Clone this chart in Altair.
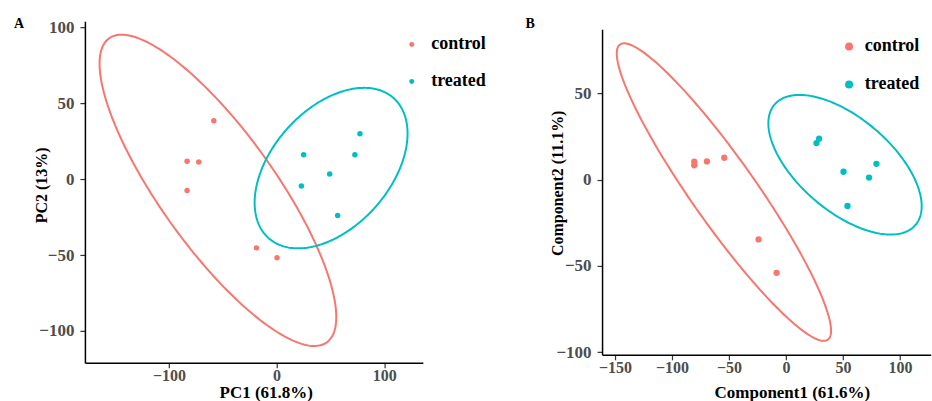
import numpy as np
import pandas as pd
import altair as alt

# ---------------- data ----------------
groups = ["control", "treated"]
colors = ["#F8766D", "#00BFC4"]

# Panel A (PCA)
a_control_x = [-58.3, -83.1, -72.3, -83.1, -18.7, 0.4]
a_control_y = [38.5, 11.7, 11.3, -7.5, -45.3, -51.8]
a_treated_x = [77.4, 25.1, 72.7, 49.3, 23.0, 56.7]
a_treated_y = [29.9, 16.1, 16.1, 3.4, -4.5, -24.0]

# Panel B (PLS-DA)
b_control_x = [-80.5, -80.5, -69.4, -54.2, -24.1, -8.3]
b_control_y = [10.4, 8.3, 10.6, 12.7, -34.6, -54.0]
b_treated_x = [29.0, 26.7, 79.3, 50.4, 72.8, 53.9]
b_treated_y = [23.7, 21.2, 9.2, 4.6, 1.2, -15.2]

# confidence ellipses: centre, half-width, half-height, y-offset at the rightmost point
a_ellipse_cx = [-54.5, 50.6]
a_ellipse_cy = [-7.4, 7.25]
a_ellipse_w = [109.9, 71.0]
a_ellipse_h = [102.5, 52.85]
a_ellipse_d = [-83.4, 22.8]

b_ellipse_cx = [-54.5, 51.75]
b_ellipse_cy = [-7.2, 8.65]
b_ellipse_w = [94.0, 67.25]
b_ellipse_h = [86.2, 40.45]
b_ellipse_d = [-80.3, -24.0]

a_x_ticks = [-100, 0, 100]
a_y_ticks = [-100, -50, 0, 50, 100]
b_x_ticks = [-150, -100, -50, 0, 50, 100]
b_y_ticks = [-100, -50, 0, 50]


def points_frame(cx, cy, tx, ty):
    return pd.DataFrame({
        "x": cx + tx,
        "y": cy + ty,
        "group": ["control"] * len(cx) + ["treated"] * len(tx),
    })


def ellipse_frame(cx, cy, w, h, d, n=241):
    rows = []
    t = np.linspace(0, 2 * np.pi, n)
    for g, x0, y0, ww, hh, dd in zip(groups, cx, cy, w, h, d):
        l11 = np.sqrt(hh ** 2 - dd ** 2)
        xs = x0 + ww * np.cos(t)
        ys = y0 + dd * np.cos(t) + l11 * np.sin(t)
        for i, (x, y) in enumerate(zip(xs, ys)):
            rows.append({"group": g, "x": float(x), "y": float(y), "i": i})
    return pd.DataFrame(rows)


FONT = "Liberation Serif"
axis_common = dict(
    grid=False,
    domainColor="black",
    domainWidth=1.5,
    tickColor="#333333",
    tickWidth=1.2,
    tickSize=5,
    labelFont=FONT,
    labelFontWeight="bold",
    labelColor="#4D4D4D",
    labelOverlap=False,
    labelFlush=False,
    titleFont=FONT,
    titleFontWeight="bold",
    titleColor="black",
    titleBaseline="middle",
)


def panel(pts, ell, xdom, ydom, xticks, yticks, xtitle, ytitle, w, h,
          xtitle_pos, ytitle_pos, letter, letter_pos, pt_size, legend):
    xenc = alt.X("x:Q", scale=alt.Scale(domain=xdom, nice=False, zero=False),
                 axis=alt.Axis(values=xticks, title=xtitle, labelPadding=0,
                               labelFontSize=16, titleFontSize=17,
                               titleX=xtitle_pos[0], titleY=xtitle_pos[1],
                               **axis_common))
    yenc = alt.Y("y:Q", scale=alt.Scale(domain=ydom, nice=False, zero=False),
                 axis=alt.Axis(values=yticks, title=ytitle, labelPadding=6,
                               labelFontSize=17, titleFontSize=16,
                               titleX=ytitle_pos[0], titleY=ytitle_pos[1],
                               **axis_common))
    layers = []
    for g, c in zip(groups, colors):
        layers.append(
            alt.Chart(ell).transform_filter(alt.datum.group == g)
            .mark_line(strokeWidth=2, color=c)
            .encode(x=xenc, y=yenc, order="i:Q")
        )
    pt_layer = alt.Chart(pts).mark_circle(size=pt_size, opacity=1).encode(
        x=xenc, y=yenc,
        color=alt.Color("group:N", scale=alt.Scale(domain=groups, range=colors),
                        legend=legend),
    )
    letter_layer = alt.Chart(pd.DataFrame({"t": [letter]})).mark_text(
        align="left", baseline="top", font=FONT, fontWeight="bold",
        fontSize=14, color="black",
    ).encode(text="t:N", x=alt.value(letter_pos[0]), y=alt.value(letter_pos[1]))
    return alt.layer(*layers, pt_layer, letter_layer).properties(width=w, height=h)


def make_legend(lx, ly, size, offset, rowpad):
    return alt.Legend(
        title=None, orient="none", legendX=lx, legendY=ly,
        symbolType="circle", symbolSize=size, symbolStrokeWidth=0,
        symbolOpacity=1,
        labelFont=FONT, labelFontWeight="bold", labelFontSize=18,
        labelColor="black", labelOffset=offset, rowPadding=rowpad, padding=0,
    )


chart_a = panel(
    points_frame(a_control_x, a_control_y, a_treated_x, a_treated_y),
    ellipse_frame(a_ellipse_cx, a_ellipse_cy, a_ellipse_w, a_ellipse_h, a_ellipse_d),
    [-178, 135.8], [-121, 104], a_x_ticks, a_y_ticks,
    "PC1 (61.8%)", "PC2 (13%)", 338.3, 342,
    (181, 29.5), (-43.3, 163.8), "A", (-71, -3.7), 30,
    make_legend(318.2, 14.3, 25, 10.5, 19),
)

chart_b = panel(
    points_frame(b_control_x, b_control_y, b_treated_x, b_treated_y),
    ellipse_frame(b_ellipse_cx, b_ellipse_cy, b_ellipse_w, b_ellipse_h, b_ellipse_d),
    [-161.4, 126.9], [-101.5, 87.2], b_x_ticks, b_y_ticks,
    "Component1 (61.6%)", "Component2 (11.1%)", 329, 326,
    (190, 37.8), (-44.3, 153.8), "B", (-76.7, -11.7), 40,
    make_legend(238.3, 8.3, 64, 6.7, 20),
)

chart = alt.hconcat(
    chart_a, chart_b, spacing=178.7, bounds="flush", center=True
).resolve_scale(
    color="independent"
).resolve_legend(
    color="independent"
).configure_view(
    stroke=None
).properties(
    padding={"left": 14, "top": 17, "right": 1, "bottom": 0},
    background="white",
)

chart.save("out.html", embed_options={"renderer": "svg", "actions": False})
